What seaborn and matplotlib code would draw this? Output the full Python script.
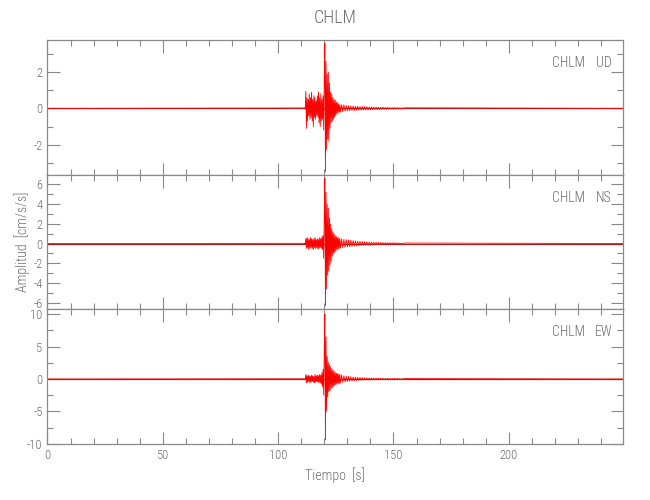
import numpy as np
import pandas as pd
import matplotlib
matplotlib.use("Agg")
import matplotlib.pyplot as plt
import seaborn as sns
from matplotlib.ticker import MultipleLocator

# station / components
station = "CHLM"
components = ["UD", "NS", "EW"]

# sample times (s): strong-motion window and coda
t_burst = np.arange(111.0, 127.0, 0.25)
t_coda = np.arange(127.0, 155.0, 0.5)
t_start, t_end = 0.0, 249.5

# amplitudes (cm/s/s)
ud_burst = [0.02, -0.03, 0.03, -0.02, 0.95, -1.1, 0.6, -0.7, 0.5, -0.4,
            0.8, -0.6, 0.6, -0.5, 0.9, -0.7, 0.5, -1.0, 0.7, -0.5,
            0.6, -0.6, 0.4, -0.4, 0.7, -0.5, 0.9, -0.8, 0.6, -1.0,
            0.8, -0.7, 0.5, -0.6, 0.7, -1.2, 1.8, 3.6, -3.5, 2.6,
            -2.3, 1.9, -1.7, 2.0, -1.8, 1.4, -1.1, 0.9, -0.8, 0.8,
            -0.7, 0.6, -0.6, 0.5, -0.5, 0.45, -0.4, 0.35, -0.3, 0.3,
            -0.25, 0.25, -0.2, 0.2]
ud_coda = [-0.2, 0.2, -0.18, 0.2, -0.15, 0.17, -0.15, 0.15, -0.13, 0.14,
           -0.12, 0.13, -0.12, 0.12, -0.1, 0.12, -0.1, 0.1, -0.1, 0.1,
           -0.09, 0.1, -0.08, 0.09, -0.08, 0.08, -0.07, 0.08, -0.07, 0.07,
           -0.06, 0.07, -0.06, 0.06, -0.06, 0.06, -0.05, 0.06, -0.05, 0.05,
           -0.05, 0.05, -0.04, 0.05, -0.04, 0.04, -0.04, 0.04, -0.03, 0.04,
           -0.03, 0.03, -0.03, 0.03, -0.03, 0.03]

ns_burst = [0.02, -0.02, 0.03, -0.03, 0.5, -0.5, 0.6, -0.4, 0.5, -0.6,
            0.4, -0.5, 0.6, -0.4, 0.5, -0.5, 0.4, -0.6, 0.5, -0.4,
            0.6, -0.5, 0.4, -0.4, 0.5, -0.6, 0.4, -0.5, 0.6, -0.4,
            0.5, -0.5, 0.7, -0.6, 0.8, -1.5, 3.0, 6.6, -6.3, 5.2,
            -4.6, 4.0, -3.2, 3.6, -2.8, 2.6, -2.2, 2.0, -1.8, 1.5,
            -1.3, 1.2, -1.0, 1.0, -0.9, 0.8, -0.8, 0.7, -0.6, 0.6,
            -0.6, 0.55, -0.5, 0.5]
ns_coda = [-0.45, 0.45, -0.4, 0.42, -0.38, 0.4, -0.35, 0.36, -0.33, 0.33,
           -0.3, 0.3, -0.26, 0.27, -0.24, 0.24, -0.22, 0.22, -0.2, 0.2,
           -0.18, 0.18, -0.16, 0.17, -0.15, 0.15, -0.14, 0.14, -0.13, 0.13,
           -0.12, 0.12, -0.11, 0.11, -0.1, 0.1, -0.1, 0.1, -0.09, 0.09,
           -0.08, 0.08, -0.08, 0.08, -0.07, 0.07, -0.07, 0.07, -0.06, 0.06,
           -0.06, 0.06, -0.05, 0.05, -0.05, 0.05]

ew_burst = [0.03, -0.03, 0.02, -0.04, 0.7, -0.6, 0.5, -0.5, 0.6, -0.4,
            0.5, -0.6, 0.4, -0.5, 0.6, -0.4, 0.5, -0.5, 0.4, -0.6,
            0.7, -0.5, 0.5, -0.4, 0.6, -0.6, 0.5, -0.5, 0.7, -0.6,
            0.6, -0.8, 1.0, -1.2, 1.5, -2.5, 5.0, 10.0, -9.4, 6.5,
            -5.0, 3.5, -2.8, 2.6, -2.0, 2.2, -1.8, 1.9, -1.5, 1.6,
            -1.3, 1.4, -1.1, 1.2, -1.0, 1.0, -0.9, 0.9, -0.8, 0.8,
            -0.7, 0.75, -0.7, 0.7]
ew_coda = [-0.6, 0.6, -0.5, 0.5, -0.45, 0.45, -0.4, 0.4, -0.35, 0.35,
           -0.3, 0.3, -0.28, 0.28, -0.25, 0.25, -0.22, 0.22, -0.2, 0.2,
           -0.18, 0.18, -0.17, 0.17, -0.16, 0.16, -0.15, 0.15, -0.14, 0.14,
           -0.13, 0.13, -0.12, 0.12, -0.12, 0.12, -0.11, 0.11, -0.1, 0.1,
           -0.1, 0.1, -0.09, 0.09, -0.09, 0.09, -0.08, 0.08, -0.08, 0.08,
           -0.07, 0.07, -0.07, 0.07, -0.06, 0.06]

# axis ranges per panel
ylims = [(-3.66, 3.78), (-6.67, 6.98), (-10.05, 10.77)]
ymajor = [2, 2, 5]
yminor = [1, 1, 2.5]

sns.set_style("ticks")
plt.rcParams['font.family'] = ['Liberation Sans Narrow', 'DejaVu Sans Condensed',
                               'Roboto Condensed', 'Open Sans Condensed', 'DejaVu Sans']
plt.rcParams['font.weight'] = 'light'
plt.rcParams['axes.titleweight'] = 'light'
plt.rcParams['axes.labelweight'] = 'light'
plt.rcParams['axes.unicode_minus'] = False

gray = "#8a8a8a"
txt = "#6e6e6e"

traces = [(ud_burst, ud_coda), (ns_burst, ns_coda), (ew_burst, ew_coda)]
t_all = np.concatenate([[t_start], t_burst, t_coda, [t_end]])

fig, axes = plt.subplots(3, 1, figsize=(6.5, 5), dpi=100, sharex=True)
fig.subplots_adjust(left=0.073, right=0.9585, top=0.92, bottom=0.112, hspace=0)

for ax, comp, (burst, coda), yl, ymj, ymn in zip(axes, components, traces, ylims, ymajor, yminor):
    amp = np.concatenate([[0.0], burst, coda, [0.0]])
    df = pd.DataFrame({"t": t_all, "a": amp})
    ax.axhline(0, color="#a02020", lw=0.9, zorder=1)
    sns.lineplot(data=df, x="t", y="a", ax=ax, color="red", lw=0.6,
                 estimator=None, sort=False, zorder=2)
    ax.set_xlim(t_start, t_end)
    ax.set_ylim(*yl)
    ax.xaxis.set_major_locator(MultipleLocator(50))
    ax.xaxis.set_minor_locator(MultipleLocator(10))
    ax.yaxis.set_major_locator(MultipleLocator(ymj))
    ax.yaxis.set_minor_locator(MultipleLocator(ymn))
    ax.tick_params(which="both", direction="in", top=True, right=True,
                   color=gray, labelcolor=txt, labelsize=9, width=0.8)
    ax.tick_params(which="major", length=9)
    ax.tick_params(which="minor", length=4.5)
    for sp in ax.spines.values():
        sp.set_color(gray)
        sp.set_linewidth(0.9)
    ax.set_xlabel("")
    ax.set_ylabel("")
    ax.text(0.906, 0.83, station, transform=ax.transAxes, fontsize=10,
            color=txt, ha="center", va="center")
    ax.text(0.967, 0.83, comp, transform=ax.transAxes, fontsize=10,
            color=txt, ha="center", va="center")

axes[0].set_title(station, fontsize=13, color=txt, pad=12, fontweight="light")
axes[2].set_xlabel("Tiempo  [s]", fontsize=10, color=txt, fontweight="light")
axes[1].set_ylabel("Amplitud  [cm/s/s]", fontsize=10, color=txt, labelpad=2,
                   fontweight="light")

plt.savefig("out.png", dpi=100)
plt.close()
